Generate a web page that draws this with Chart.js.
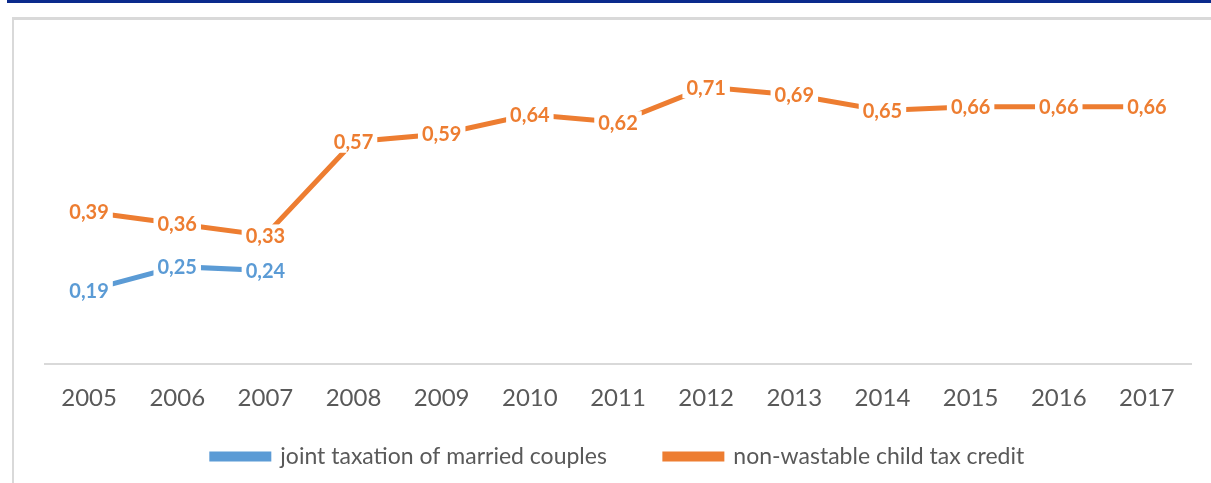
<!DOCTYPE html>
<html>
<head>
<meta charset="utf-8">
<script src="https://cdn.jsdelivr.net/npm/chart.js@4/dist/chart.umd.min.js"></script>
<style>
  html, body { margin: 0; padding: 0; background: #fff; }
  body { width: 1211px; height: 483px; position: relative; overflow: hidden; }
  #topbar { position: absolute; left: 7px; top: 0; width: 1204px; height: 3px; background: #0a2a8c; }
  #frame { position: absolute; left: 12px; top: 17px; width: 1199px; height: 466px;
           border-top: 3px solid #d9d9d9; border-left: 2px solid #d9d9d9; box-sizing: border-box; }
  #wrap { position: absolute; left: 14px; top: 20px; width: 1197px; height: 463px; }
</style>
</head>
<body>
<div id="topbar"></div>
<div id="frame"></div>
<div id="wrap"><canvas id="chart"></canvas></div>
<script>
const years = ['2005','2006','2007','2008','2009','2010','2011','2012','2013','2014','2015','2016','2017']
const jointTaxation = [0.19, 0.25, 0.24, null, null, null, null, null, null, null, null, null, null]
const childTaxCredit = [0.39, 0.36, 0.33, 0.57, 0.59, 0.64, 0.62, 0.71, 0.69, 0.65, 0.66, 0.66, 0.66]

const blue = '#5b9bd5'
const orange = '#ed7d31'

// value labels sitting on the points, with white box that breaks the line
const pointLabels = {
    id: 'pointLabels',
    afterDatasetsDraw(chart) {
        const ctx = chart.ctx
        ctx.save()
        ctx.font = 'bold 20px Lato'
        ctx.textAlign = 'center'
        ctx.textBaseline = 'middle'
        chart.data.datasets.forEach((ds, i) => {
            const meta = chart.getDatasetMeta(i)
            meta.data.forEach((pt, j) => {
                const v = ds.data[j]
                if (v === null || v === undefined) return
                const txt = v.toFixed(2).replace('.', ',')
                const w = ctx.measureText(txt).width
                ctx.fillStyle = '#fff'
                ctx.fillRect(pt.x - w / 2 - 4, pt.y - 11, w + 8, 22)
                ctx.fillStyle = ds.borderColor
                ctx.fillText(txt, pt.x, pt.y + 1)
            })
        })
        ctx.restore()
    }
}

// legend needs wide gap between items but less room above it
const liftLegend = {
    id: 'liftLegend',
    afterLayout(chart) {
        chart.legend.top -= 46
        chart.legend.bottom -= 46
    }
}

new Chart('chart', {
    type: 'line',
    data: {
        labels: years,
        datasets: [
            {
                label: 'joint taxation of married couples',
                data: jointTaxation,
                borderColor: blue,
                backgroundColor: blue,
                borderWidth: 5,
                borderCapStyle: 'round',
                pointRadius: 0,
                spanGaps: false
            },
            {
                label: 'non-wastable child tax credit',
                data: childTaxCredit,
                borderColor: orange,
                backgroundColor: orange,
                borderWidth: 5,
                borderCapStyle: 'round',
                pointRadius: 0
            }
        ]
    },
    options: {
        responsive: true,
        maintainAspectRatio: false,
        animation: false,
        layout: { padding: { left: 31, right: 20, top: 32, bottom: -41 } },
        plugins: {
            tooltip: { enabled: false },
            legend: {
                position: 'bottom',
                labels: {
                    boxWidth: 57,
                    boxHeight: 5,
                    padding: 58,
                    color: '#595959',
                    font: { family: 'Lato', size: 23 }
                }
            }
        },
        scales: {
            x: {
                offset: true,
                grid: { display: false, drawTicks: false },
                border: { display: true, color: '#d9d9d9', width: 2 },
                ticks: { color: '#595959', font: { family: 'Lato', size: 24 }, padding: 20 }
            },
            y: {
                display: false,
                min: 0,
                max: 0.8
            }
        }
    },
    plugins: [pointLabels, liftLegend]
})
</script>
</body>
</html>
